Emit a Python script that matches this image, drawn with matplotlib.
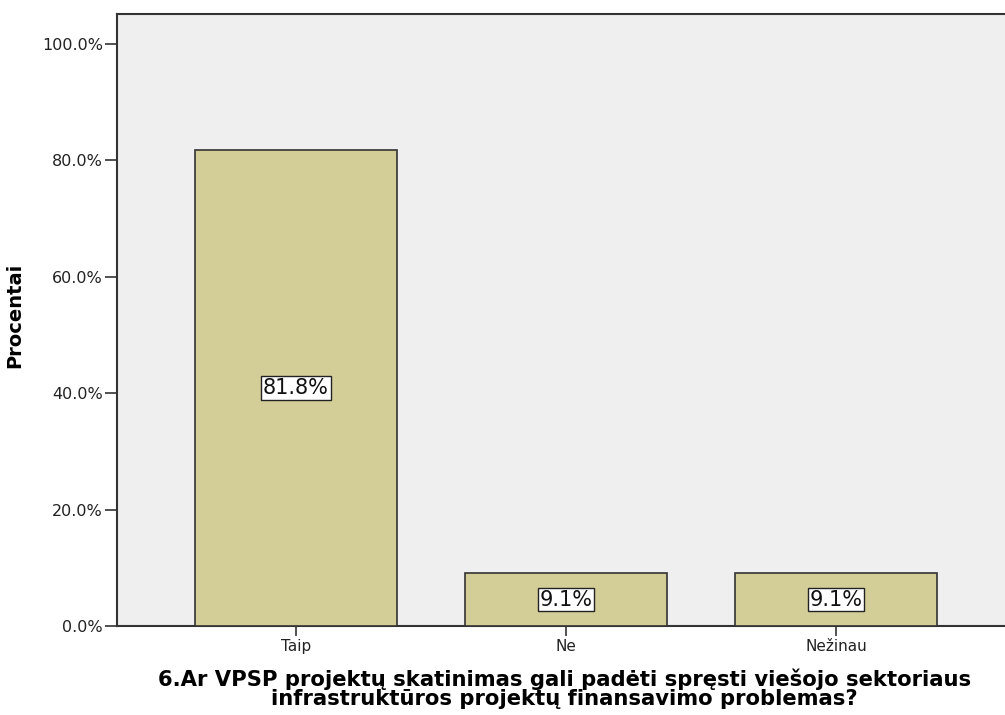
import matplotlib
matplotlib.use("Agg")
import matplotlib.pyplot as plt
import numpy as np

categories = ["Taip", "Ne", "Nežinau"]
values = [81.8, 9.1, 9.1]
yticks = [0, 20, 40, 60, 80, 100]
ytick_labels = ["0.0%", "20.0%", "40.0%", "60.0%", "80.0%", "100.0%"]
xlabel = "6.Ar VPSP projektų skatinimas gali padėti spręsti viešojo sektoriaus\ninfrastruktūros projektų finansavimo problemas?"
ylabel = "Procentai"

plt.rcParams['font.family'] = ['DejaVu Sans']

fig = plt.figure(figsize=(10.05, 7.15), dpi=100)
W, H = 1005, 715
ax = fig.add_axes([117 / W, 1 - 626 / H, (1005 - 117) / W, (626 - 14) / H])
ax.set_facecolor("#EFEFEF")

x = np.arange(len(categories))
bars = ax.bar(x, values, width=0.748, color="#D3CE97", edgecolor="#333333", linewidth=1.2, zorder=3)

ax.set_xlim(-0.663, 2.626)
ax.set_ylim(0, 105.15)
ax.set_yticks(yticks)
ax.set_yticklabels(ytick_labels, fontsize=11.5)
ax.set_xticks(x)
ax.set_xticklabels(categories, fontsize=11)
ax.tick_params(axis='both', width=1.2, color="#333333", labelcolor="#222222")
ax.tick_params(axis='y', length=9, pad=1)
ax.tick_params(axis='x', length=7, pad=2.5)

for s in ["left", "top", "bottom"]:
    ax.spines[s].set_color("#333333")
    ax.spines[s].set_linewidth(1.5)
ax.spines["right"].set_visible(False)

for xi, v in zip(x, values):
    ax.text(xi, v / 2, f"{v:.1f}%", ha="center", va="center", fontsize=15, color="#111111",
            bbox=dict(boxstyle="square,pad=0.08", facecolor="white", edgecolor="#222222", linewidth=1.0), zorder=5)

ax.set_ylabel(ylabel, fontsize=14, fontweight="bold")
ax.yaxis.set_label_coords(-0.105, 0.507)
ax.set_xlabel(xlabel, fontsize=15.2, fontweight="bold", linespacing=0.93)
ax.xaxis.set_label_coords(0.504, -0.070)

fig.savefig("out.png", dpi=100)
